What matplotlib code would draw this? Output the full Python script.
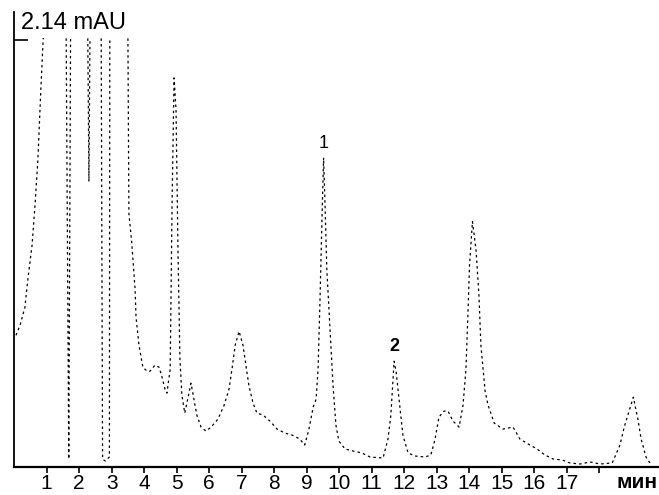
import numpy as np
import matplotlib.pyplot as plt
from matplotlib.transforms import Bbox, TransformedBbox

# время, мин
t = [0.055, 0.18, 0.33, 0.42, 0.55, 0.64, 0.73, 0.82, 0.92, 1.0, 1.55,
     1.68, 1.77, 2.2, 2.30, 2.39, 2.65, 2.72, 2.80, 2.93, 2.95, 3.45,
     3.50, 3.53, 3.62, 3.72, 3.75, 3.84, 3.96, 4.09, 4.18, 4.33, 4.46,
     4.55, 4.64, 4.70, 4.80, 4.86, 4.92, 4.98, 5.04, 5.10, 5.16, 5.25,
     5.34, 5.44, 5.53, 5.62, 5.75, 5.90, 6.06, 6.27, 6.46, 6.61, 6.71,
     6.80, 6.92, 7.04, 7.13, 7.22, 7.35, 7.47, 7.66, 7.87, 8.09, 8.33,
     8.55, 8.79, 8.94, 9.07, 9.20, 9.29, 9.35, 9.41, 9.47, 9.52, 9.56,
     9.62, 9.72, 9.81, 9.90, 9.99, 10.18, 10.43, 10.70, 10.95, 11.35,
     11.50, 11.59, 11.69, 11.75, 11.81, 11.96, 12.12, 12.33, 12.64,
     12.82, 12.95, 13.07, 13.22, 13.35, 13.50, 13.69, 13.81, 13.90,
     13.96, 14.01, 14.10, 14.21, 14.30, 14.36, 14.49, 14.58, 14.77,
     15.04, 15.35, 15.56, 15.87, 16.09, 16.33, 16.58, 16.86, 17.10,
     17.41, 17.72, 18.02, 18.40, 18.64, 18.77, 19.05, 19.19, 19.29,
     19.44, 19.56]
# сигнал, mAU (значения > 2.14 - зашкал)
mau = [0.66, 0.71, 0.80, 0.94, 1.11, 1.31, 1.54, 1.89, 2.24, 3.5, 3.5,
       0.04, 3.5, 3.5, 1.43, 3.5, 3.5, 0.04, 0.03, 0.05, 3.5, 3.5,
       2.16, 1.27, 1.12, 0.89, 0.75, 0.61, 0.50, 0.48, 0.48, 0.51, 0.50,
       0.45, 0.39, 0.37, 0.49, 1.34, 1.95, 1.79, 1.09, 0.54, 0.36, 0.27,
       0.34, 0.42, 0.34, 0.26, 0.20, 0.18, 0.20, 0.24, 0.31, 0.39, 0.50,
       0.61, 0.68, 0.61, 0.51, 0.41, 0.32, 0.27, 0.26, 0.23, 0.19, 0.17,
       0.16, 0.14, 0.11, 0.19, 0.30, 0.34, 0.49, 0.84, 1.24, 1.55, 1.34,
       0.99, 0.69, 0.41, 0.21, 0.13, 0.09, 0.08, 0.07, 0.05, 0.045,
       0.14, 0.26, 0.53, 0.48, 0.39, 0.16, 0.07, 0.055, 0.05,
       0.06, 0.14, 0.25, 0.28, 0.28, 0.23, 0.20, 0.31, 0.49,
       0.76, 1.01, 1.23, 1.09, 0.86, 0.61, 0.38, 0.31, 0.22,
       0.19, 0.20, 0.14, 0.11, 0.09, 0.06, 0.04, 0.035, 0.02,
       0.015, 0.025, 0.015, 0.02, 0.11, 0.20, 0.35, 0.24, 0.14,
       0.05, 0.02]

peak_labels = ["1", "2"]
peak_t = [9.52, 11.69]
peak_v = [1.55, 0.53]

ticks = list(range(1, 19))
tick_labels = [str(i) for i in range(1, 18)] + [""]

fnt = ["Liberation Sans Narrow", "Liberation Sans"]

fig = plt.figure(figsize=(6.59, 4.95), dpi=100)
ax = fig.add_axes([0.0215, 0.0566, 0.9785, 0.919])

line, = ax.plot(t, mau, color="black", lw=0.9, linestyle=(0, (2, 2.5)))
line.set_clip_box(TransformedBbox(Bbox([[0, -0.1], [20, 2.15]]), ax.transData))

ax.set_xlim(0, 19.84)
ax.set_ylim(0, 2.28)

for s in ["top", "right"]:
    ax.spines[s].set_visible(False)
ax.spines["left"].set_linewidth(1.3)
ax.spines["bottom"].set_linewidth(1.6)

ax.set_xticks(ticks)
ax.set_xticklabels(tick_labels, fontsize=15, family=fnt)
ax.tick_params(axis="x", direction="out", length=4, width=1.2, pad=1)
ax.set_yticks([2.14])
ax.set_yticklabels([""])
ax.tick_params(axis="y", direction="in", length=10, width=1.2)

ax.text(0.2, 2.17, "2.14 mAU", fontsize=17, family=fnt,
        ha="left", va="bottom")
ax.text(19.8, -0.03, "мин", fontsize=15, fontweight="bold",
        family="Liberation Sans", ha="right", va="top", clip_on=False)

ax.text(peak_t[0], peak_v[0] + 0.03, peak_labels[0], fontsize=13,
        family=fnt, ha="center", va="bottom")
ax.text(peak_t[1], peak_v[1] + 0.03, peak_labels[1], fontsize=13,
        fontweight="bold", family=fnt, ha="center", va="bottom")

plt.savefig("out.png", dpi=100)
